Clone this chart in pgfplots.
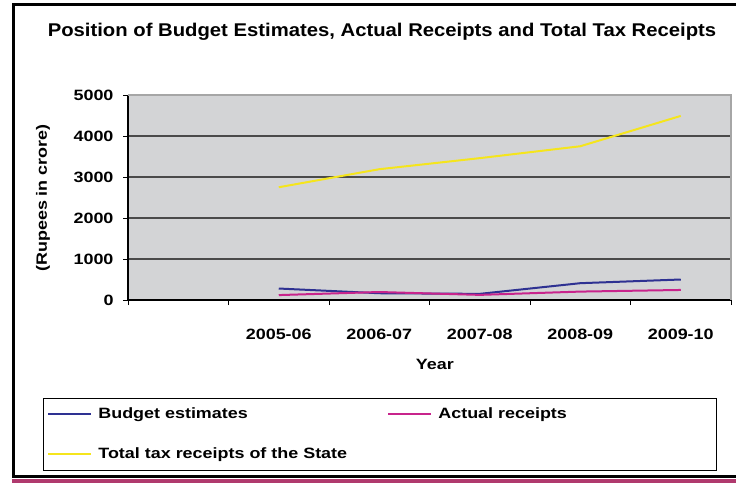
\documentclass[border=0pt]{standalone}
\usepackage{fontspec}
\setmainfont{Liberation Sans}[FakeStretch=1.2]
\newfontfamily\titlefont{Liberation Sans}[FakeStretch=1.1]
\usepackage{pgfplots}
\pgfplotsset{compat=1.18}
\definecolor{budget}{HTML}{2E3192}
\definecolor{actual}{HTML}{C8248C}
\definecolor{total}{HTML}{F5E51C}
\definecolor{plotbg}{HTML}{D3D4D6}
\definecolor{gridc}{HTML}{4A4A4A}
\definecolor{stripe}{HTML}{B03A6E}
\begin{document}
\begin{tikzpicture}[x=1bp,y=1bp]
\useasboundingbox (0,0) rectangle (736,-483);
% frame
\draw[line width=3bp,black] (13.5,-476.5) -- (13.5,-5) -- (736,-5);
\draw[line width=3bp,black] (12,-476.5) -- (736,-476.5);
\fill[stripe] (12,-479) rectangle (736,-483);
\node[font=\titlefont\bfseries\fontsize{18.5}{21}\selectfont] at (382,-32) {Position of Budget Estimates, Actual Receipts and Total Tax Receipts};
\begin{axis}[
  at={(128bp,-300bp)}, anchor=south west,
  scale only axis, width=603bp, height=205bp,
  xmin=-0.5, xmax=5.5, ymin=0, ymax=5000,
  axis background/.style={fill=plotbg},
  axis x line*=bottom, axis y line*=left,
  axis line style={black, line width=1.2bp, -},
  xtick={-0.5,0.5,...,5.5},
  xticklabels={,2005-06,2006-07,2007-08,2008-09,2009-10,},
  xticklabel style={anchor=center, xshift=50.25bp, yshift=-29bp},
  ytick={0,1000,...,5000},
  yticklabel style={anchor=east, xshift=-6bp},
  /pgf/number format/assume math mode=true,
  /pgf/number format/1000 sep={},
  tick label style={font=\bfseries\fontsize{15}{17}\selectfont},
  tick align=outside, major tick length=5bp,
  tick style={black, line width=0.8bp},
  ymajorgrids, grid style={gridc, line width=1.5bp},
  xlabel={Year}, xlabel style={at={(axis description cs:0.509,-0.312)}, anchor=center, font=\bfseries\fontsize{15}{17}\selectfont},
  ylabel={(Rupees in crore)}, ylabel style={at={(axis description cs:-0.141,0.4976)}, anchor=center, rotate=0, font=\bfseries\fontsize{15}{17}\selectfont},
  legend columns=2,
  legend style={at={(axis description cs:-0.141,-0.478)}, anchor=north west,
    draw=black, line width=0.8bp, inner xsep=4bp, inner ysep=8bp,
    font=\bfseries\fontsize{15}{17}\selectfont,
    nodes={text width=271bp, align=left, inner xsep=3bp, inner ysep=0bp, text height=12bp, text depth=4bp},
    /tikz/every odd column/.style={column sep=3bp},
    /tikz/every even column/.style={column sep=15bp},
    row sep=24bp},
  legend image code/.code={\draw[#1, line width=2bp] (0bp,0bp) -- (43bp,0bp);},
  after end axis/.code={\draw[gray!70, line width=1.2bp] (rel axis cs:0,1) -- (rel axis cs:1,1) -- (rel axis cs:1,0);},
]
\addplot[budget, line width=2bp] coordinates {(1,280) (2,165) (3,150) (4,410) (5,500)};
\addlegendentry{Budget estimates}
\addplot[actual, line width=2bp] coordinates {(1,120) (2,195) (3,125) (4,205) (5,245)};
\addlegendentry{Actual receipts}
\addplot[total, line width=2bp] coordinates {(1,2750) (2,3190) (3,3460) (4,3750) (5,4490)};
\addlegendentry{Total tax receipts of the State}
\end{axis}
\end{tikzpicture}
\end{document}
